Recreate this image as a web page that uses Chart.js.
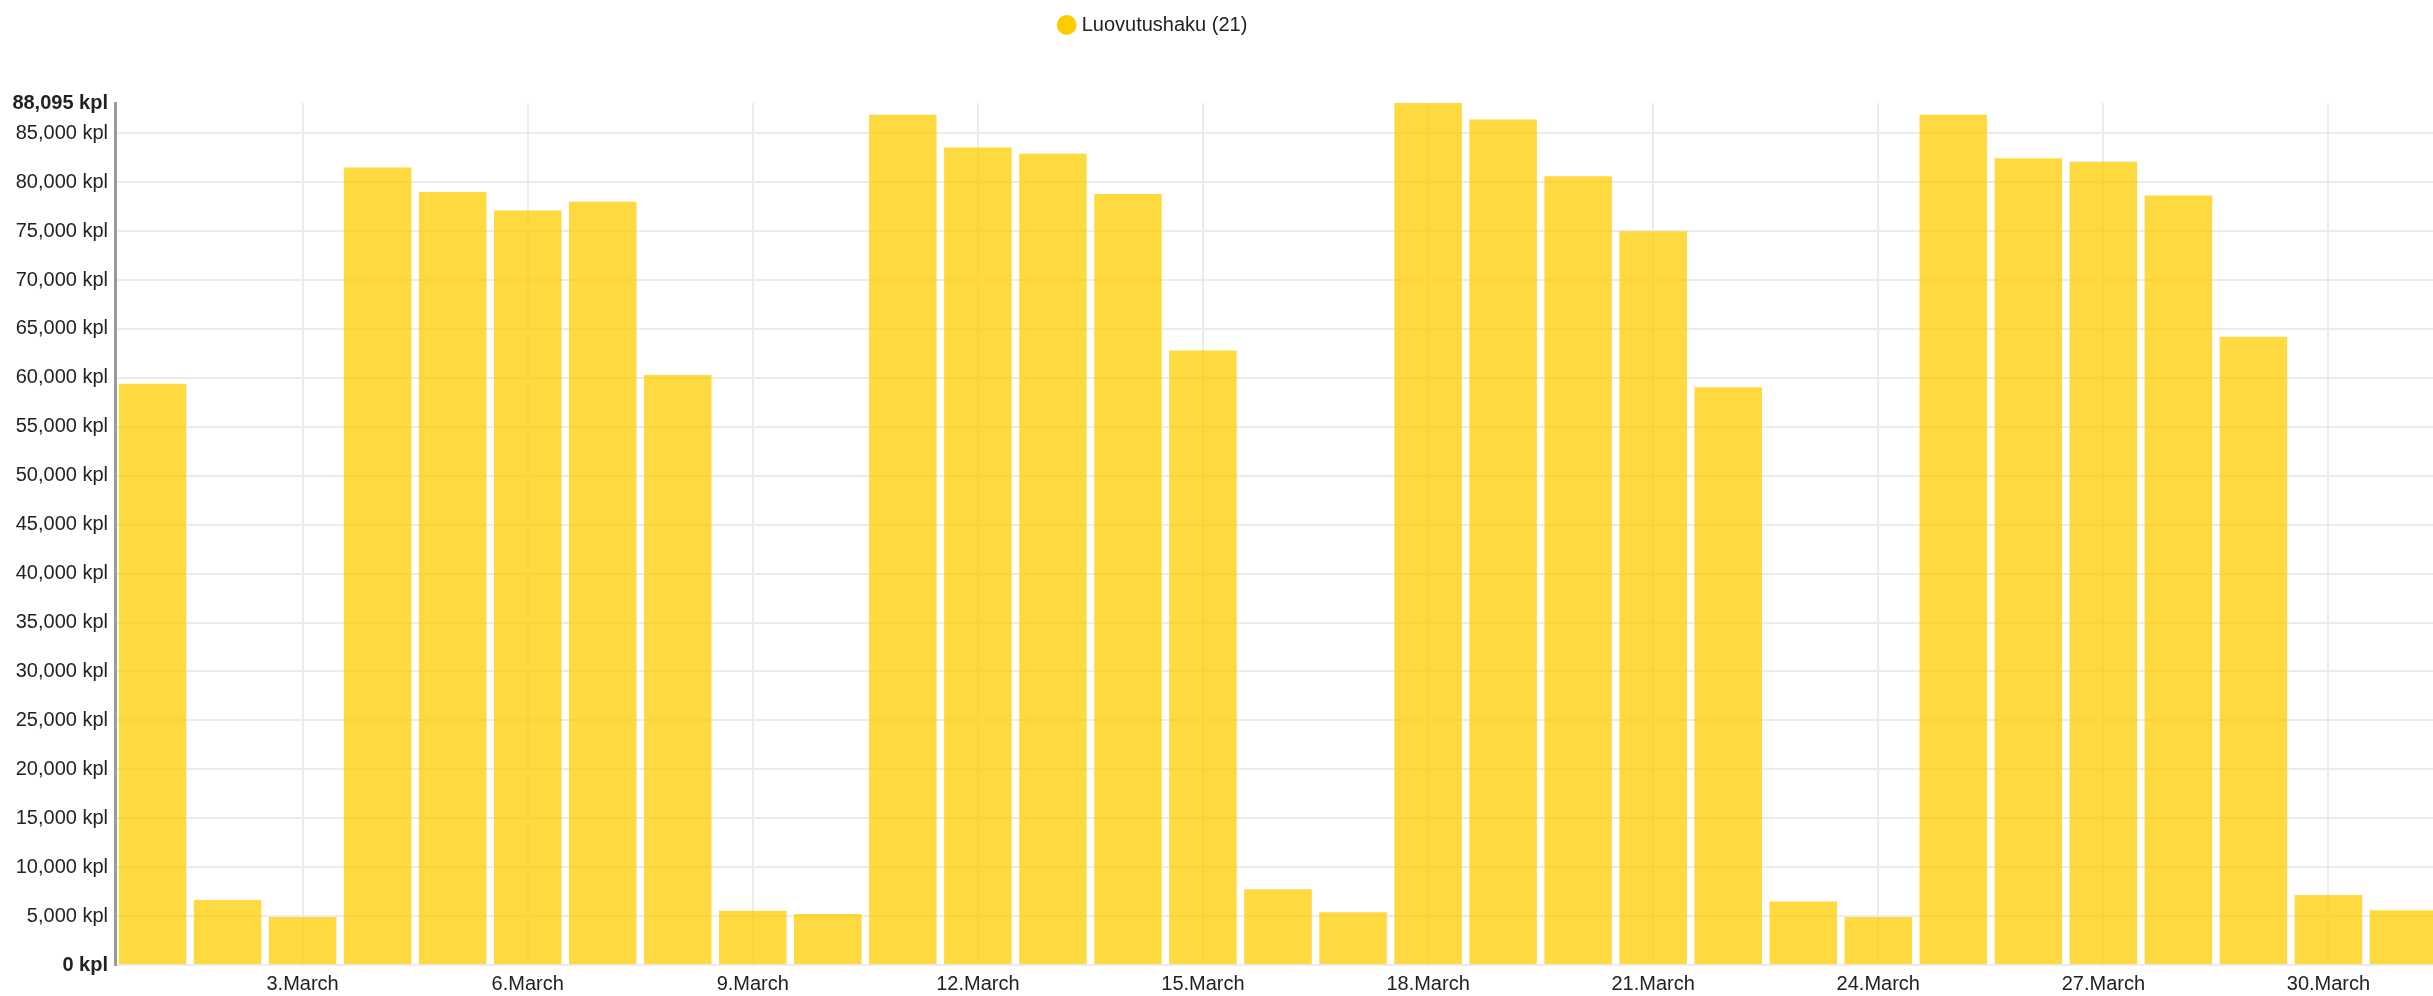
<!DOCTYPE html>
<html>
<head>
<meta charset="utf-8">
<script src="https://cdn.jsdelivr.net/npm/chart.js@4/dist/chart.umd.min.js"></script>
<style>
  html, body { margin: 0; padding: 0; background: #fff; overflow: hidden; }
  #wrap { width: 2441px; height: 996px; }
</style>
</head>
<body>
<div id="wrap"><canvas id="releaseChart"></canvas></div>
<script>
// --- Luovutushaku: daily counts for March ---

const days = [
  '1.March', '2.March', '3.March', '4.March', '5.March', '6.March', '7.March', '8.March',
  '9.March', '10.March', '11.March', '12.March', '13.March', '14.March', '15.March', '16.March',
  '17.March', '18.March', '19.March', '20.March', '21.March', '22.March', '23.March', '24.March',
  '25.March', '26.March', '27.March', '28.March', '29.March', '30.March', '31.March'
];
const xTickLabels = ['3.March', '6.March', '9.March', '12.March', '15.March', '18.March', '21.March', '24.March', '27.March', '30.March'];
const releaseCounts = [
  59400, 6650, 4900, 81500, 79000, 77100, 78000, 60300,
  5550, 5200, 86900, 83550, 82900, 78800, 62800, 7750,
  5400, 88095, 86400, 80600, 75000, 59050, 6500, 4900,
  86900, 82450, 82100, 78650, 64200, 7150, 5600
];
const yTickValues = [0, 5000, 10000, 15000, 20000, 25000, 30000, 35000, 40000, 45000, 50000, 55000, 60000, 65000, 70000, 75000, 80000, 85000, 88095];
const seriesLabel = 'Luovutushaku (21)';
const yMax = 88095;

const gridColor = '#ececec';

const legendTweaks = {
  id: 'legendTweaks',
  beforeInit(chart) {
    const fit = chart.legend.fit;
    chart.legend.fit = function () {
      fit.call(this);
      this.height += 58;
    };
  },
  afterLayout(chart) {
    chart.legend.left -= 66;
    chart.legend.right -= 66;
  }
};

new Chart(document.getElementById('releaseChart'), {
  type: 'bar',
  data: {
    labels: days,
    datasets: [{
      label: seriesLabel,
      data: releaseCounts,
      backgroundColor: 'rgba(255,204,0,0.75)',
      borderWidth: 0,
      categoryPercentage: 1.0,
      barPercentage: 0.9
    }]
  },
  options: {
    responsive: true,
    maintainAspectRatio: false,
    animation: false,
    layout: { padding: 0 },
    plugins: {
      tooltip: { enabled: false },
      legend: {
        position: 'top',
        labels: {
          usePointStyle: true,
          pointStyle: 'circle',
          boxWidth: 10,
          boxHeight: 14,
          padding: 15,
          color: '#222',
          font: { family: 'Liberation Sans, Arial, sans-serif', size: 20 },
          generateLabels(chart) {
            return Chart.defaults.plugins.legend.labels.generateLabels(chart).map(item => {
              item.fillStyle = '#FFCC00';
              item.strokeStyle = '#FFCC00';
              item.lineWidth = 0;
              return item;
            });
          }
        }
      }
    },
    scales: {
      x: {
        offset: true,
        afterFit(scale) {
          scale.height = 31;
        },
        grid: {
          offset: false,
          drawTicks: false,
          lineWidth: 2,
          color: ctx => (ctx.tick && xTickLabels.includes(days[ctx.index])) ? gridColor : 'rgba(0,0,0,0)'
        },
        border: { display: false },
        ticks: {
          autoSkip: false,
          maxRotation: 0,
          padding: 7,
          color: '#222',
          font: { family: 'Liberation Sans, Arial, sans-serif', size: 20 },
          callback(value, index) {
            const lbl = days[index];
            return xTickLabels.includes(lbl) ? lbl : '';
          }
        }
      },
      y: {
        min: 0,
        max: yMax,
        afterBuildTicks(scale) {
          scale.ticks = yTickValues.map(v => ({ value: v }));
        },
        afterFit(scale) {
          scale.width = 115;
        },
        grid: {
          drawTicks: false,
          lineWidth: 2,
          color: ctx => (ctx.tick && ctx.tick.value === yMax) ? 'rgba(0,0,0,0)' : gridColor
        },
        border: { display: true, color: '#9a9a9a', width: 3 },
        ticks: {
          padding: 7,
          color: '#222',
          font: ctx => ({
            family: 'Liberation Sans, Arial, sans-serif',
            size: 20,
            weight: (ctx.tick && (ctx.tick.value === 0 || ctx.tick.value === yMax)) ? 'bold' : 'normal'
          }),
          callback: v => Number(v).toLocaleString('en-US') + ' kpl'
        }
      }
    }
  },
  plugins: [legendTweaks]
});
</script>
</body>
</html>
